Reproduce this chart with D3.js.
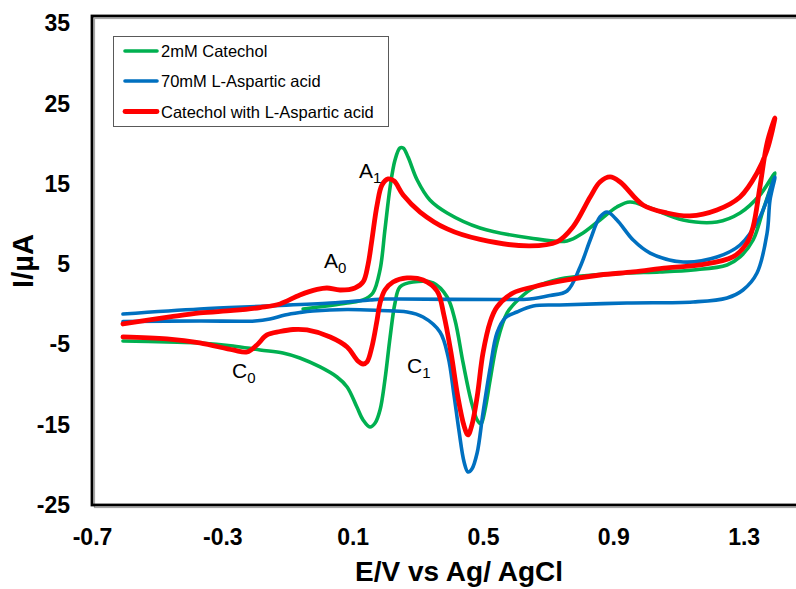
<!DOCTYPE html>
<html>
<head>
<meta charset="utf-8">
<script src="https://cdn.jsdelivr.net/npm/d3@7"></script>
<style>
  body { margin: 0; background: #fff; }
  svg { display: block; }
</style>
</head>
<body>
<svg id="chart" width="796" height="589"></svg>
<script>
// Axis ticks
const xTicks = [-0.7, -0.3, 0.1, 0.5, 0.9, 1.3];
const yTicks = [-25, -15, -5, 5, 15, 25, 35];

// Legend labels
const seriesNames = ["2mM Catechol", "70mM L-Aspartic acid", "Catechol with L-Aspartic acid"];

// 2 mM catechol: potential (V) and current (µA), anodic sweep then cathodic return
const catecholE = [-0.052, 0.083, 0.132, 0.162, 0.184, 0.199, 0.215, 0.230, 0.245, 0.255, 0.270, 0.298, 0.337, 0.390, 0.491, 0.644, 0.758, 0.807, 0.859, 0.911, 0.951, 1.013, 1.114, 1.218, 1.289, 1.350, 1.396,
  1.390, 1.360, 1.329, 1.289, 1.249, 1.145, 1.043, 0.942, 0.838, 0.736, 0.654, 0.614, 0.574, 0.543, 0.522, 0.506, 0.494, 0.482, 0.463, 0.439, 0.414, 0.390, 0.347, 0.285, 0.245, 0.230, 0.215, 0.199, 0.184, 0.169, 0.153, 0.132, 0.113, 0.083, 0.052, 0.000, -0.062, -0.114, -0.184, -0.267, -0.369, -0.470, -0.605];
const catecholI = [-0.57, 0.17, 0.55, 1.42, 4.29, 9.27, 14.63, 17.99, 19.49, 19.49, 18.37, 15.50, 13.01, 11.39, 9.52, 8.27, 7.90, 8.90, 10.52, 12.14, 12.76, 12.01, 10.52, 10.27, 11.39, 13.63, 16.37,
  15.50, 11.76, 8.02, 5.91, 4.91, 4.29, 4.04, 3.91, 3.66, 3.16, 2.04, 0.80, -1.07, -4.81, -9.42, -13.16, -14.90, -14.40, -11.91, -7.30, -1.94, 0.92, 2.67, 2.79, 2.17, 0.17, -4.06, -9.42, -13.16, -14.78, -15.28, -14.40, -12.79, -10.29, -9.05, -7.80, -6.68, -6.06, -5.68, -5.18, -4.81, -4.69, -4.56];

// 70 mM L-aspartic acid
const asparticE = [-0.605, -0.369, -0.163, 0.031, 0.153, 0.199, 0.245, 0.552, 0.644, 0.706, 0.758, 0.798, 0.829, 0.859, 0.881, 0.911, 0.961, 1.013, 1.114, 1.218, 1.289, 1.350, 1.396,
  1.381, 1.372, 1.341, 1.298, 1.249, 1.145, 0.942, 0.736, 0.654, 0.604, 0.568, 0.543, 0.522, 0.500, 0.482, 0.466, 0.454, 0.442, 0.426, 0.411, 0.393, 0.368, 0.316, 0.267, 0.184, 0.083, -0.022, -0.062, -0.108, -0.154, -0.200, -0.369, -0.605];
const asparticI = [-1.20, -0.57, -0.20, 0.17, 0.55, 0.67, 0.67, 0.61, 0.67, 1.11, 1.67, 4.66, 8.02, 10.89, 11.51, 10.52, 8.02, 6.40, 5.28, 5.91, 7.40, 10.89, 15.88,
  13.01, 8.90, 3.91, 1.79, 0.80, 0.30, 0.17, -0.07, -0.20, -0.95, -1.69, -3.56, -7.93, -13.53, -18.52, -20.51, -20.89, -19.64, -15.65, -11.29, -6.53, -3.44, -1.57, -0.95, -0.76, -0.64, -0.82, -1.01, -1.32, -1.82, -2.07, -2.07, -2.13];

// Catechol with L-aspartic acid
const mixedE = [-0.605, -0.461, -0.369, -0.267, -0.184, -0.123, -0.062, -0.009, 0.021, 0.061, 0.107, 0.132, 0.147, 0.159, 0.175, 0.190, 0.209, 0.227, 0.255, 0.307, 0.390, 0.491, 0.644, 0.727, 0.776, 0.829, 0.859, 0.890, 0.921, 0.991, 1.065, 1.135, 1.218, 1.289, 1.341, 1.372, 1.396,
  1.372, 1.350, 1.329, 1.310, 1.267, 1.166, 1.065, 0.961, 0.859, 0.758, 0.654, 0.592, 0.543, 0.522, 0.500, 0.482, 0.466, 0.454, 0.442, 0.423, 0.402, 0.380, 0.359, 0.316, 0.267, 0.224, 0.199, 0.184, 0.175, 0.159, 0.144, 0.132, 0.116, 0.083, 0.031, -0.040, -0.083, -0.123, -0.163, -0.194, -0.224, -0.267, -0.369, -0.470, -0.605];
const mixedI = [-2.44, -1.57, -1.07, -0.76, -0.39, 0.05, 1.17, 1.86, 2.04, 1.79, 2.04, 2.79, 4.91, 8.02, 12.39, 14.88, 15.63, 15.38, 13.63, 11.51, 9.40, 8.09, 7.28, 7.78, 9.64, 13.38, 15.25, 15.88, 15.25, 12.39, 11.39, 11.02, 11.76, 13.38, 16.37, 19.24, 23.23,
  20.11, 14.63, 9.64, 7.65, 5.91, 4.91, 4.54, 4.04, 3.66, 3.04, 2.17, 1.42, -0.32, -2.19, -6.06, -11.54, -15.03, -16.27, -15.15, -11.54, -6.06, -1.32, 1.67, 3.04, 3.29, 2.79, 1.79, 0.17, -1.94, -5.31, -7.18, -7.43, -7.05, -5.31, -4.06, -3.19, -3.13, -3.38, -3.81, -5.06, -5.93, -5.68, -4.81, -4.31, -4.06];

const seriesColors = ["#00B050", "#0070C0", "#FF0000"];
const seriesWidths = [3.6, 3.6, 4.8];

const series = [
  { name: seriesNames[0], E: catecholE, I: catecholI },
  { name: seriesNames[1], E: asparticE, I: asparticI },
  { name: seriesNames[2], E: mixedE, I: mixedI }
].map((s, i) => ({
  ...s,
  color: seriesColors[i],
  width: seriesWidths[i],
  points: s.E.map((e, k) => [e, s.I[k]])
}));

const FONT = "'Liberation Sans', Arial, Helvetica, sans-serif";
const svg = d3.select("#chart");

const x = d3.scaleLinear().domain([-0.7, 1.5]).range([92, 808.8]);
const y = d3.scaleLinear().domain([-25, 35]).range([505, 23.5]);
const frameTop = 16;
const frameRight = 830;

// plot frame with a soft grey offset line
svg.append("rect")
  .attr("x", x(-0.7) + 2.5).attr("y", frameTop + 2.5)
  .attr("width", frameRight - x(-0.7)).attr("height", y(-25) - frameTop)
  .attr("fill", "none").attr("stroke", "#a6a6a6").attr("stroke-width", 1.2);
svg.append("rect")
  .attr("x", x(-0.7)).attr("y", frameTop)
  .attr("width", frameRight - x(-0.7)).attr("height", y(-25) - frameTop)
  .attr("fill", "none").attr("stroke", "#000").attr("stroke-width", 2.8);

// axes (labels only)
const xAxis = svg.append("g")
  .attr("transform", `translate(0,${y(-25)})`)
  .call(d3.axisBottom(x).tickValues(xTicks).tickSize(0).tickPadding(24).tickFormat(d => d.toFixed(1)));
const yAxis = svg.append("g")
  .attr("transform", `translate(${x(-0.7)},0)`)
  .call(d3.axisLeft(y).tickValues(yTicks).tickSize(0).tickPadding(22).tickFormat(d => String(d)));
[xAxis, yAxis].forEach(g => {
  g.select(".domain").remove();
  g.selectAll("text")
    .attr("font-family", FONT).attr("font-size", 23).attr("font-weight", "bold").attr("fill", "#000");
});

// axis titles
svg.append("text")
  .attr("x", 459).attr("y", 581)
  .attr("text-anchor", "middle")
  .attr("font-family", FONT).attr("font-size", 28).attr("font-weight", "bold")
  .text("E/V vs Ag/ AgCl");
svg.append("text")
  .attr("transform", "translate(33,261) rotate(-90)")
  .attr("text-anchor", "middle")
  .attr("font-family", FONT).attr("font-size", 29).attr("font-weight", "bold")
  .text("I/µA");

// voltammograms
const line = d3.line()
  .x(d => x(d[0])).y(d => y(d[1]))
  .curve(d3.curveCatmullRom.alpha(0.5));
svg.append("g").selectAll("path")
  .data(series)
  .join("path")
  .attr("d", d => line(d.points))
  .attr("fill", "none")
  .attr("stroke", d => d.color)
  .attr("stroke-width", d => d.width)
  .attr("stroke-linejoin", "round")
  .attr("stroke-linecap", "round");

// peak labels
const peakLabels = [
  { main: "A", sub: "1", px: 359, py: 178 },
  { main: "A", sub: "0", px: 324, py: 268 },
  { main: "C", sub: "1", px: 407, py: 373 },
  { main: "C", sub: "0", px: 232, py: 378 }
];
const pl = svg.append("g").attr("font-family", FONT).attr("fill", "#000");
peakLabels.forEach(p => {
  const t = pl.append("text").attr("x", p.px).attr("y", p.py).attr("font-size", 21);
  t.append("tspan").text(p.main);
  t.append("tspan").attr("dy", 5).attr("font-size", 15).text(p.sub);
});

// legend
const legend = svg.append("g");
legend.append("rect")
  .attr("x", 113.5).attr("y", 36.5).attr("width", 275).attr("height", 90)
  .attr("fill", "#fff").attr("stroke", "#595959").attr("stroke-width", 1);
const legendY = [51, 81, 111.5];
series.forEach((s, i) => {
  legend.append("line")
    .attr("x1", 125).attr("x2", 157)
    .attr("y1", legendY[i]).attr("y2", legendY[i])
    .attr("stroke", s.color).attr("stroke-width", s.width)
    .attr("stroke-linecap", "round");
  legend.append("text")
    .attr("x", 161).attr("y", legendY[i] + 6)
    .attr("font-family", FONT).attr("font-size", 16.5).attr("fill", "#000")
    .text(s.name);
});
</script>
</body>
</html>
